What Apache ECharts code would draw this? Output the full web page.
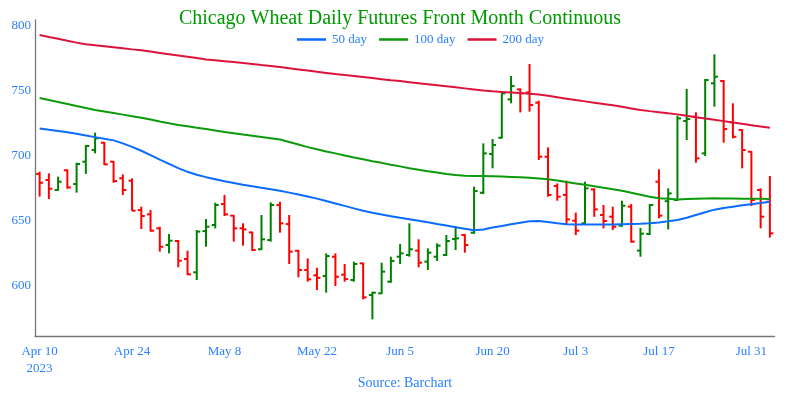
<!DOCTYPE html>
<html>
<head>
<meta charset="utf-8">
<script src="https://cdn.jsdelivr.net/npm/echarts@6/dist/echarts.min.js"></script>
<style>html,body{margin:0;padding:0;background:#fff}#c{width:800px;height:400px}</style>
</head>
<body>
<div id="c"></div>
<script>
var dates = ['Apr 10','Apr 11','Apr 12','Apr 13','Apr 14','Apr 17','Apr 18','Apr 19','Apr 20','Apr 21',
 'Apr 24','Apr 25','Apr 26','Apr 27','Apr 28','May 1','May 2','May 3','May 4','May 5',
 'May 8','May 9','May 10','May 11','May 12','May 15','May 16','May 17','May 18','May 19',
 'May 22','May 23','May 24','May 25','May 26','May 30','May 31','Jun 1','Jun 2',
 'Jun 5','Jun 6','Jun 7','Jun 8','Jun 9','Jun 12','Jun 13','Jun 14','Jun 15','Jun 16',
 'Jun 20','Jun 21','Jun 22','Jun 23','Jun 26','Jun 27','Jun 28','Jun 29','Jun 30',
 'Jul 3','Jul 5','Jul 6','Jul 7','Jul 10','Jul 11','Jul 12','Jul 13','Jul 14',
 'Jul 17','Jul 18','Jul 19','Jul 20','Jul 21','Jul 24','Jul 25','Jul 26','Jul 27','Jul 28',
 'Jul 31','Aug 1','Aug 2'];

var openP = [686,681.3,673.6,688.8,678.2,695.4,704.4,710,695.4,682.6,
 680.8,658.2,654.9,644.1,631.3,634.4,620.5,610.3,642,646.7,
 662.8,653.9,644.1,641,628,635.1,662,647.4,626.9,612.1,
 608,607.4,622.3,608.5,604.4,617.2,592.8,594.1,603.1,622.3,
 623.6,627,618.5,622.3,623.6,635.9,639,640.8,671.5,701.3,
 713.8,743.3,751,748.7,740.8,699.2,676.7,669.8,650,648,
 674.1,654.4,653.1,646.2,660.8,627,639.8,680,665,665.9,
 726.7,730,701.8,755.7,757.5,725.7,719.8,703.1,673.6,664.6];
var highP = [687.7,686.4,683.9,689.5,694.6,708.2,717.7,710.5,695.9,685.6,
 682.6,660.8,658.2,645.4,639.8,635.1,626.9,642.8,651.3,663.8,
 669.8,654.4,648,641.6,654.4,664.1,664.6,654.4,627.4,621,
 613.8,624.9,624.9,616.7,618.5,617.7,595.4,617.7,622.3,632.1,
 648,635.7,628.7,632.6,639,645.9,639.8,676.2,709.5,712.8,
 748.7,761.3,751.8,770.5,742.3,706.4,678.7,680.8,656.2,680,
 674.9,662.1,660.8,665.4,662.8,644.5,662.8,689.5,674.9,730.8,
 751.3,733.4,759,778,758.2,740.3,720.5,703.6,674.9,684.4];
var lowP = [668.5,666.7,673.1,674.6,671.6,686,701.8,692.8,679.2,669.8,
 657.5,643.6,641.6,626.2,624.9,614.1,608.2,604.4,630,644.1,
 653.6,633.9,630.8,626.7,627.5,633.9,640.8,616.7,606.4,603.1,
 596.7,594.6,599.7,603.1,603.1,589.5,574.1,593.6,602.3,616.7,
 622.3,614.1,612.1,619,622.8,627.4,625.4,639.8,670.5,690.3,
 713.3,740.3,733.3,733.9,696.7,668.5,665.4,646.7,639,647.2,
 653,644.1,642.8,645.4,633.1,622.3,639,651.8,643.3,665.2,
 712.1,694.6,699.8,737.7,710,713.3,690.3,661.3,644.1,637];
var closeP = [679.2,674.6,680,675.6,693.6,707.5,713.4,693.3,680.5,673.6,
 657.7,653.6,642.3,630,634.6,619.2,608.7,641.6,645.4,662.1,
 654.9,644.1,643.3,627.5,635.7,662.1,648,626.2,612.1,604.9,
 606,622.8,606.9,605.1,616.7,591,594.6,610.8,619,624.9,
 628,617.7,625.4,630.8,634.4,636.4,631.3,672.8,701.8,708.2,
 748,753.6,748,739,699.2,669.8,668.5,651,642.3,674.9,
 658.7,649.8,645.4,661.5,633.9,640,662.1,653.9,671,728.7,
 728.2,698,758.2,760.8,720.5,714.6,704.4,665.9,653.1,640.3];

var ma50 = [721.0,720.0,719.0,718.0,716.9,715.6,714.3,713.0,711.8,709.5,
 706.8,703.8,700.5,697.0,693.7,690.5,687.6,685.3,683.5,681.9,
 680.3,679.0,677.7,676.5,675.3,674.2,673.0,671.6,670.1,668.6,
 667.0,665.2,663.3,661.4,659.5,657.7,656.1,654.7,653.5,652.3,
 651.2,650.0,648.8,647.5,646.3,645.0,643.8,642.7,643.3,644.8,
 646.0,647.3,648.5,649.5,649.7,649.0,648.0,647.3,647.0,647.0,
 647.0,647.0,647.0,647.2,647.4,647.6,648.0,648.7,649.5,650.6,
 652.3,654.4,656.5,658.5,659.8,660.8,661.8,662.7,663.6,664.6];
var ma100 = [744.4,742.8,741.3,739.8,738.3,736.7,735.2,734.0,732.8,731.6,
 730.4,729.2,727.8,726.3,724.9,723.7,722.6,721.5,720.5,719.4,
 718.3,717.3,716.3,715.4,714.4,713.4,712.4,710.5,708.6,706.6,
 704.9,703.3,701.8,700.2,698.6,697.2,695.8,694.5,693.1,691.8,
 690.4,689.2,688.0,687.0,686.0,685.1,684.6,684.4,684.3,684.2,
 684.0,683.7,683.4,683.0,682.5,681.9,681.0,679.8,678.7,677.6,
 676.5,675.4,674.2,673.0,671.5,670.0,668.5,667.2,666.8,666.4,
 666.6,666.8,667.0,667.2,667.1,667.0,666.9,666.8,666.8,666.7];
var ma200 = [792.8,791.3,789.9,788.4,787.0,785.7,785.0,784.2,783.4,782.6,
 781.8,781.1,780.1,779.1,778.1,777.1,776.1,775.1,774.1,773.4,
 772.7,772.0,771.3,770.5,769.7,769.0,768.2,767.3,766.4,765.5,
 764.6,763.7,762.8,762.1,761.3,760.5,759.7,758.9,758.1,757.4,
 756.6,755.8,755.0,754.2,753.4,752.6,751.8,751.0,750.2,749.5,
 749.1,748.7,748.3,747.7,747.1,746.1,745.0,743.9,742.8,741.8,
 740.8,739.8,738.8,737.6,736.4,735.2,734.3,733.5,732.6,731.8,
 730.7,729.6,728.6,727.6,726.6,725.6,724.5,723.5,722.5,721.5];

var tickDates = ['Apr 10','Apr 24','May 8','May 22','Jun 5','Jun 20','Jul 3','Jul 17','Jul 31'];
var yTicks = [600, 650, 700, 750, 800];

var FONT = 'Liberation Serif';
var UP = '#008000', DOWN = '#ff0000';
var LABEL_BLUE = '#2a7fff';

var ohlc = dates.map(function (d, i) { return [i, openP[i], highP[i], lowP[i], closeP[i]]; });

var chart = echarts.init(document.getElementById('c'), null, {renderer: 'canvas'});
chart.setOption({
  animation: false,
  backgroundColor: '#fff',
  title: {
    text: 'Chicago Wheat Daily Futures Front Month Continuous',
    left: 'center', top: 4,
    textStyle: {fontFamily: FONT, fontSize: 20, fontWeight: 'normal', color: '#009a00'}
  },
  legend: {
    data: ['50 day', '100 day', '200 day'],
    left: 292, top: 28,
    icon: 'rect', itemWidth: 29, itemHeight: 2.5, itemGap: 12,
    textStyle: {fontFamily: FONT, fontSize: 13, color: LABEL_BLUE, padding: [0, 0, 0, 1]}
  },
  grid: {left: 35, right: 25.5, top: 20, bottom: 64, containLabel: false},
  xAxis: {
    type: 'category', data: dates, boundaryGap: true,
    axisLine: {show: true, lineStyle: {color: '#777', width: 1.3}},
    axisTick: {show: false},
    splitLine: {show: false},
    axisLabel: {
      interval: function (idx, val) { return tickDates.indexOf(val) >= 0; },
      formatter: function (val, idx) { return idx === 0 ? val + '\n2023' : val; },
      fontFamily: FONT, fontSize: 13, color: LABEL_BLUE, margin: 7, lineHeight: 17,
      hideOverlap: false
    }
  },
  yAxis: {
    type: 'value', min: 561.3, max: 804.4, scale: true,
    axisLine: {show: true, lineStyle: {color: '#777', width: 1.3}},
    axisTick: {show: false},
    splitLine: {show: false},
    axisLabel: {customValues: yTicks, fontFamily: FONT, fontSize: 13, color: LABEL_BLUE, margin: 4}
  },
  graphic: [{
    type: 'text', x: 405, y: 383,
    style: {text: 'Source: Barchart', fontFamily: FONT, fontSize: 14, fill: LABEL_BLUE,
            textAlign: 'center', textVerticalAlign: 'middle'}
  }],
  series: [
    {
      type: 'custom', name: 'OHLC', data: ohlc,
      encode: {x: 0, y: [1, 2, 3, 4]},
      renderItem: function (params, api) {
        var i = api.value(0), o = api.value(1), h = api.value(2), l = api.value(3), c = api.value(4);
        var pH = api.coord([i, h]), pL = api.coord([i, l]), pO = api.coord([i, o]), pC = api.coord([i, c]);
        var col = c >= o ? UP : DOWN;
        var st = {stroke: col, lineWidth: 2};
        var t = 3.5;
        return {type: 'group', children: [
          {type: 'line', shape: {x1: pH[0], y1: pH[1], x2: pL[0], y2: pL[1]}, style: st},
          {type: 'line', shape: {x1: pO[0] - t, y1: pO[1], x2: pO[0], y2: pO[1]}, style: st},
          {type: 'line', shape: {x1: pC[0], y1: pC[1], x2: pC[0] + t, y2: pC[1]}, style: st}
        ]};
      },
      z: 3
    },
    {type: 'line', name: '50 day', data: ma50, showSymbol: false, symbol: 'none',
     lineStyle: {color: '#0a6cff', width: 2}, itemStyle: {color: '#0a6cff'}, z: 4},
    {type: 'line', name: '100 day', data: ma100, showSymbol: false, symbol: 'none',
     lineStyle: {color: '#0c9a0c', width: 2}, itemStyle: {color: '#0c9a0c'}, z: 4},
    {type: 'line', name: '200 day', data: ma200, showSymbol: false, symbol: 'none',
     lineStyle: {color: '#dc143c', width: 2}, itemStyle: {color: '#dc143c'}, z: 4}
  ]
});
</script>
</body>
</html>
